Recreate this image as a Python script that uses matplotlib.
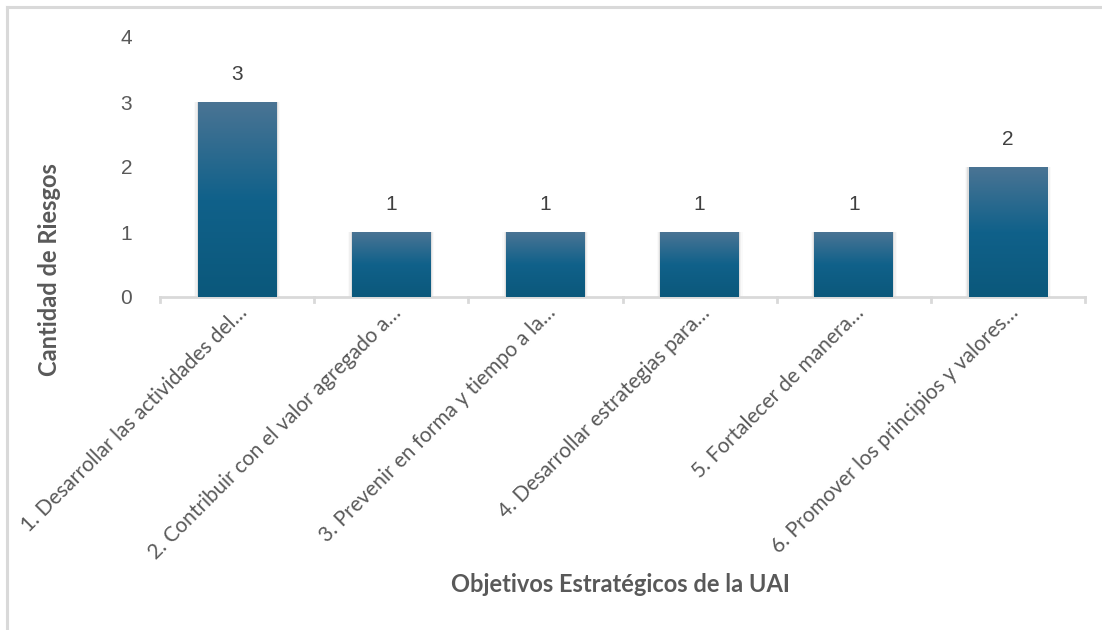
import matplotlib
matplotlib.use("Agg")
import matplotlib.pyplot as plt
import matplotlib.transforms as mtransforms
import numpy as np
from matplotlib.colors import LinearSegmentedColormap
from matplotlib.lines import Line2D

# Data
objetivos = [
    "1. Desarrollar las actividades del…",
    "2. Contribuir con el valor agregado a…",
    "3. Prevenir en forma y tiempo a la…",
    "4. Desarrollar estrategias para…",
    "5. Fortalecer de manera…",
    "6. Promover los principios y valores…",
]
riesgos = [3, 1, 1, 1, 1, 2]
y_ticks = [0, 1, 2, 3, 4]

axis_grey = "#d9d9d9"
text_grey = "#595959"
label_grey = "#404040"

fig = plt.figure(figsize=(11.02, 6.30), dpi=100)
fig.patch.set_facecolor("white")

# Thin frame along the top and left of the chart area
fig.add_artist(Line2D([7 / 1102, 1.0], [1 - 7 / 630] * 2, color="#d9d9d9", lw=2.2,
                      transform=fig.transFigure))
fig.add_artist(Line2D([7 / 1102] * 2, [0.0, 1 - 7 / 630], color="#d9d9d9", lw=2.2,
                      transform=fig.transFigure))

ax = fig.add_axes([160 / 1102, 1 - 297 / 630, (1085 - 160) / 1102, (297 - 37) / 630])
x = np.arange(len(objetivos))
bar_w = 0.51
bars = ax.bar(x, riesgos, width=bar_w, color="none", edgecolor="none", zorder=3)

cmap = LinearSegmentedColormap.from_list(
    "azul", [(0.0, "#0b587b"), (0.5, "#10618a"), (1.0, "#4a7494")])
grad = np.linspace(0, 1, 256).reshape(-1, 1)

for b in bars:
    x0, w, h = b.get_x(), b.get_width(), b.get_height()
    # soft drop shadow on the sides
    for i, a in enumerate([0.07, 0.04, 0.02]):
        d = 0.008 * (i + 1)
        ax.add_patch(plt.Rectangle((x0 - d, 0), w + 2 * d, h, color="black",
                                   alpha=a, lw=0, zorder=2))
    im = ax.imshow(grad, cmap=cmap, aspect="auto", origin="lower",
                   extent=(x0, x0 + w, 0, h), zorder=3)
    im.set_clip_path(b)
    ax.text(x0 + w / 2, h + 0.27, f"{h:g}", ha="center", va="bottom",
            fontsize=15, color=label_grey, family="Liberation Sans")

ax.set_xlim(-0.5, len(objetivos) - 0.5)
ax.set_ylim(0, 4)
ax.set_yticks(y_ticks)
ax.set_yticklabels([str(t) for t in y_ticks], fontsize=15, color=text_grey,
                   family="Liberation Sans")
ax.tick_params(axis="y", length=0, pad=20)

ax.set_xticks(x)
ax.set_xticklabels(objetivos, rotation=45, ha="right", rotation_mode="anchor",
                   fontsize=15, color=text_grey, family="Lato")
ax.tick_params(axis="x", length=0, pad=9)
shift = mtransforms.ScaledTranslation(0.0, 0.07, fig.dpi_scale_trans)
for lbl in ax.get_xticklabels():
    lbl.set_transform(lbl.get_transform() + shift)
# category boundary ticks
for bnd in np.arange(-0.5, len(objetivos), 1.0):
    ax.plot([bnd, bnd], [0, -0.08], color=axis_grey, lw=2.0, clip_on=False, zorder=1)

for s in ["top", "right", "left"]:
    ax.spines[s].set_visible(False)
ax.spines["bottom"].set_color(axis_grey)
ax.spines["bottom"].set_linewidth(2.0)
ax.set_facecolor("none")

fig.text(50 / 1102, 1 - 270 / 630, "Cantidad de Riesgos", rotation=90,
         ha="center", va="center", fontsize=17, fontweight="bold", color=text_grey,
         family="Lato")
fig.text(620 / 1102, 1 - 585 / 630, "Objetivos Estratégicos de la UAI",
         ha="center", va="center", fontsize=17, fontweight="bold", color=text_grey,
         family="Lato")

fig.savefig("out.png", dpi=100, facecolor="white")
